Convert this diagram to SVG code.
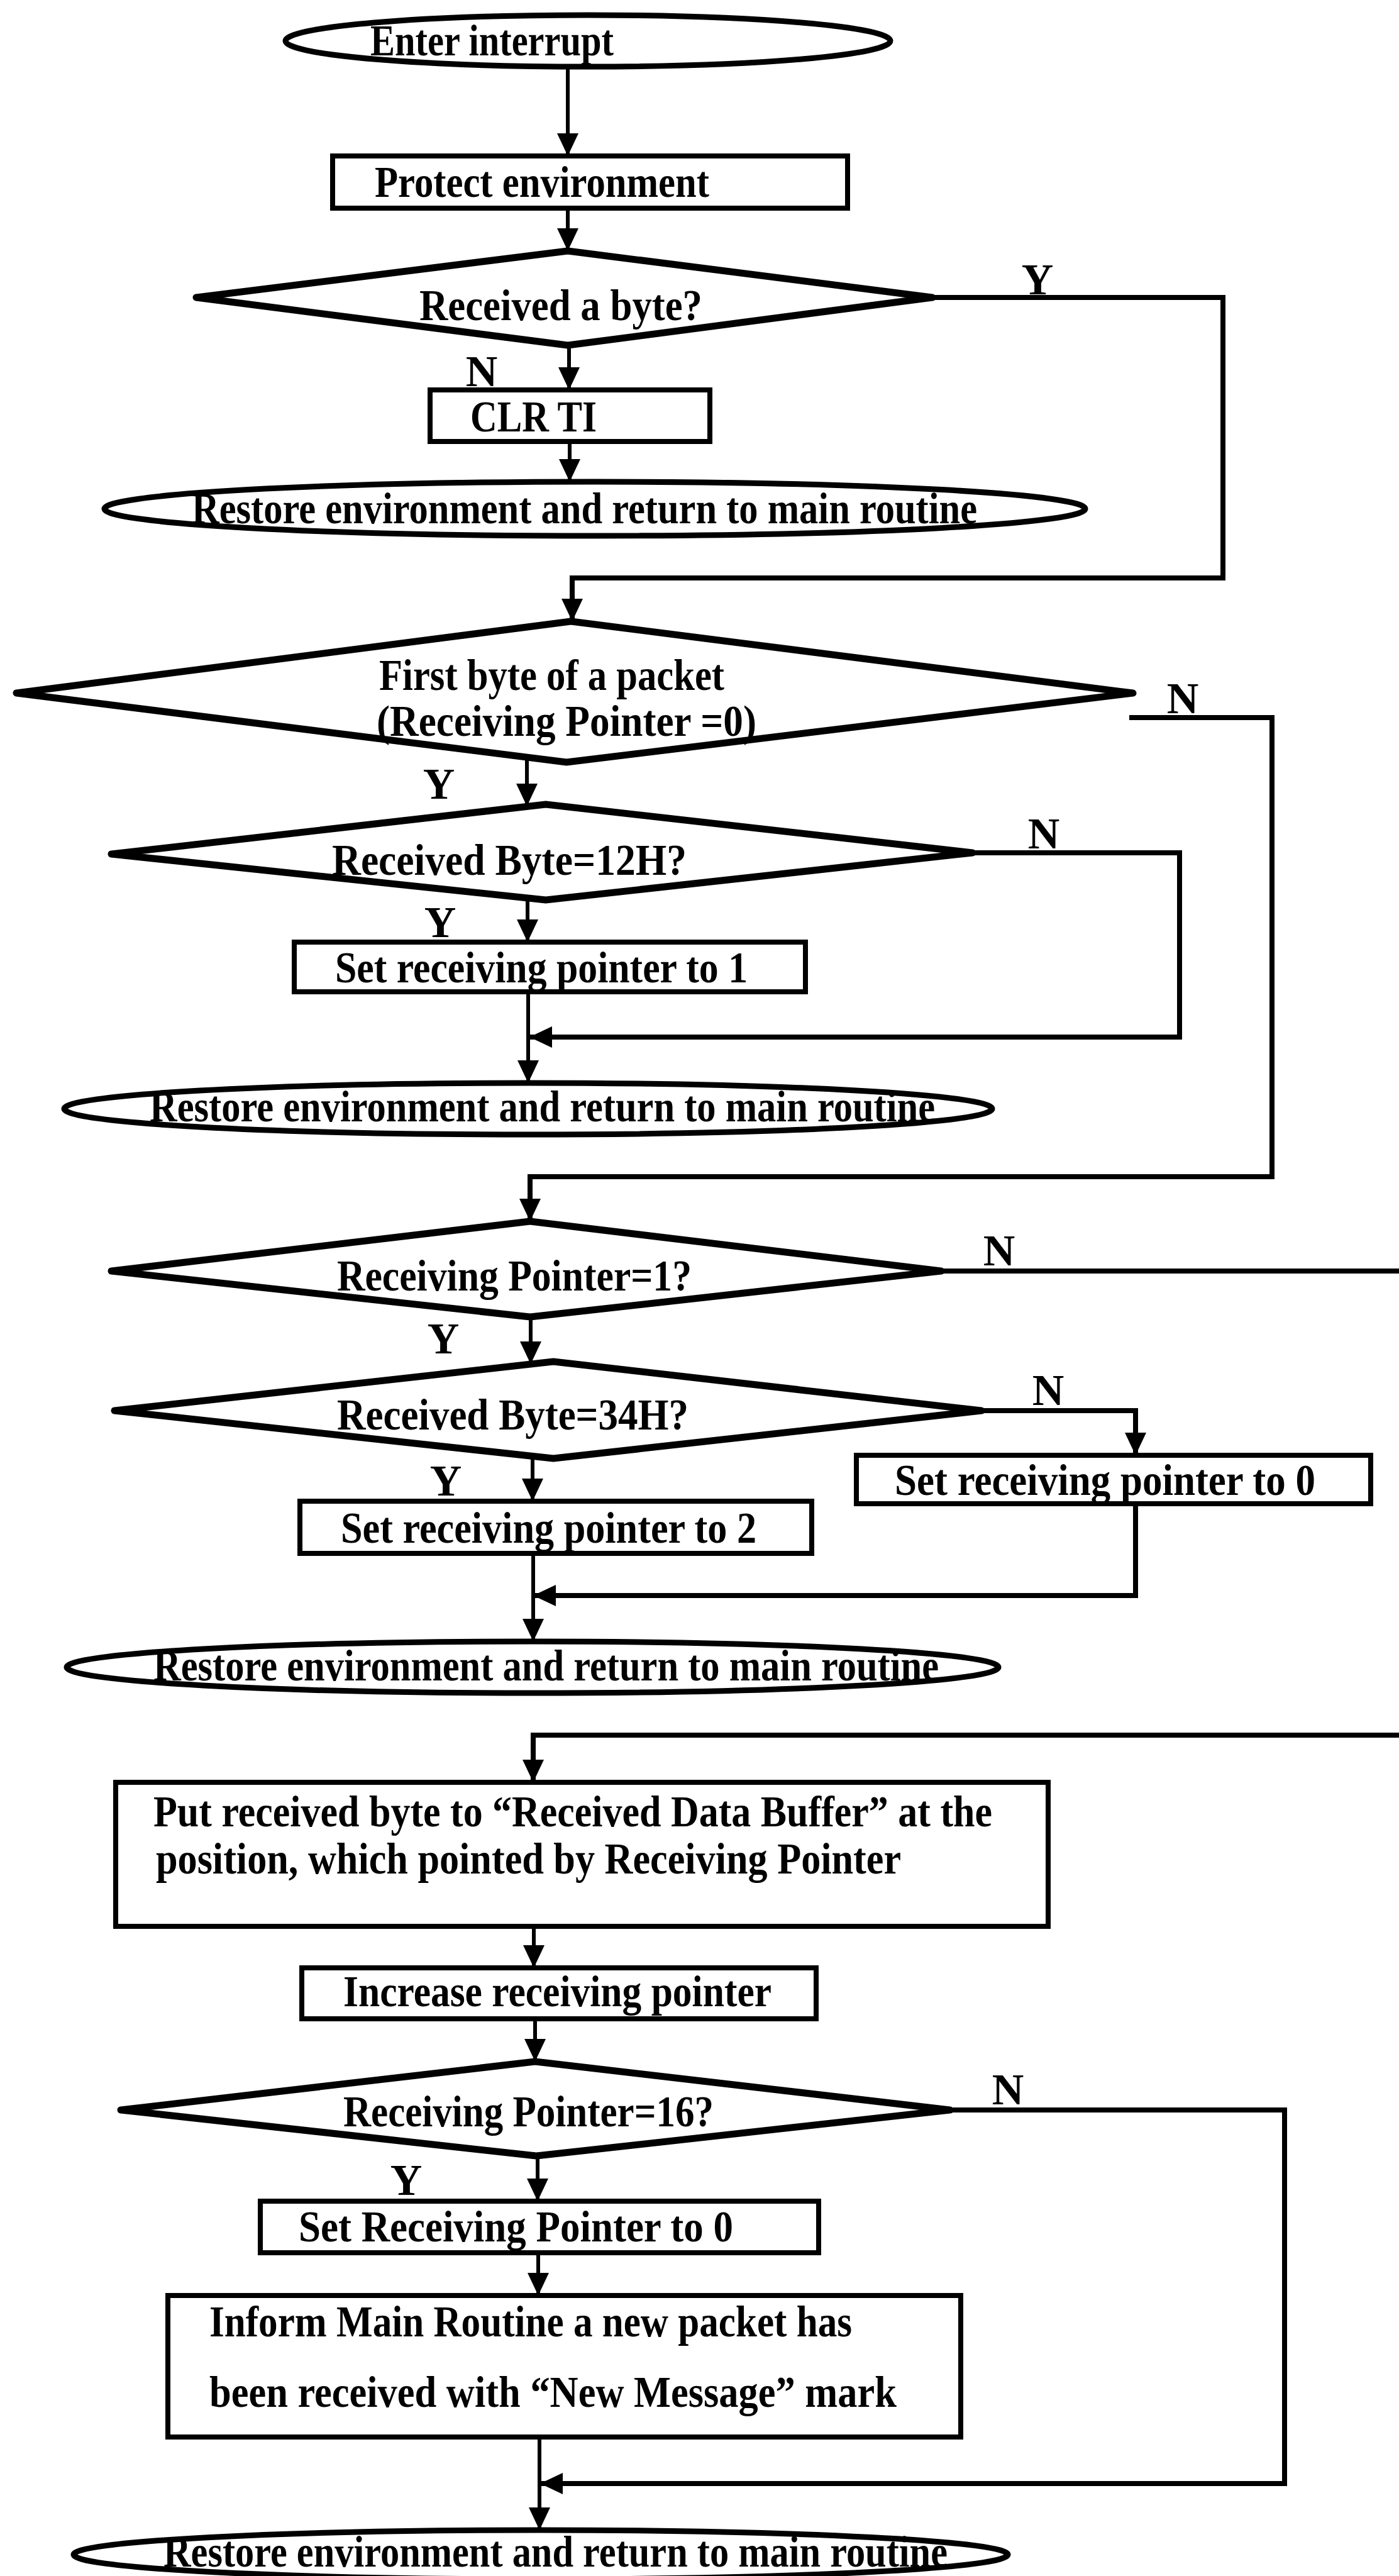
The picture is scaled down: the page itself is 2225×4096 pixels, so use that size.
<svg xmlns="http://www.w3.org/2000/svg" width="2225" height="4096" viewBox="0 0 2225 4096">
  <style>
    .shape { fill: #ffffff; stroke: #000000; }
    .dia { stroke-width: 11; stroke-linejoin: round; }
    .box { stroke-width: 8; }
    .term { stroke-width: 9; }
    .txt { font-family: "Liberation Serif", "Times New Roman", serif; font-weight: bold; font-size: 70px; fill: #000000; }
    .lbl { font-family: "Liberation Serif", "Times New Roman", serif; font-weight: bold; font-size: 70px; fill: #000000; text-anchor: middle; }
    .wire { fill: none; stroke: #000000; stroke-width: 6; stroke-linejoin: miter; }
    .loop { fill: none; stroke: #000000; stroke-width: 8; stroke-linejoin: miter; }
  </style>
  <defs>
    <marker id="arrow" markerUnits="userSpaceOnUse" markerWidth="38" markerHeight="36" refX="36" refY="17" orient="auto">
      <path d="M0,0 L36,17 L0,34 z" fill="#000000"/>
    </marker>
  </defs>
  <rect x="0" y="0" width="2225" height="4096" fill="#ffffff"/>

  <!-- connectors -->
  <g id="connectors">
    <path class="wire" d="M903,106 V248" marker-end="url(#arrow)"/>
    <path class="wire" d="M903,331 V399" marker-end="url(#arrow)"/>
    <path class="wire" d="M905,549 V620" marker-end="url(#arrow)"/>
    <path class="wire" d="M906,702 V766" marker-end="url(#arrow)"/>
    <!-- Y branch of "Received a byte?" -->
    <path class="loop" d="M1483,473 H1945 V919 H910 V988" marker-end="url(#arrow)"/>
    <!-- N branch of first-byte test -->
    <path class="loop" d="M1796,1141 H2023 V1871 H843 V1942" marker-end="url(#arrow)"/>
    <path class="wire" d="M838,1204 V1282" marker-end="url(#arrow)"/>
    <path class="wire" d="M839,1428 V1498" marker-end="url(#arrow)"/>
    <path class="loop" d="M1547,1356 H1876 V1649 H842" marker-end="url(#arrow)"/>
    <path class="wire" d="M840,1578 V1722" marker-end="url(#arrow)"/>
    <!-- N branch of "Receiving Pointer=1?" runs off to the right -->
    <path class="loop" d="M1497,2021 H2230"/>
    <path class="wire" d="M844,2094 V2169" marker-end="url(#arrow)"/>
    <path class="loop" d="M1561,2243 H1806 V2314" marker-end="url(#arrow)"/>
    <path class="loop" d="M1806,2391 V2537 H848" marker-end="url(#arrow)"/>
    <path class="wire" d="M847,2315 V2387" marker-end="url(#arrow)"/>
    <path class="wire" d="M848,2470 V2610" marker-end="url(#arrow)"/>
    <path class="loop" d="M2230,2759 H848 V2834" marker-end="url(#arrow)"/>
    <path class="wire" d="M849,3063 V3129" marker-end="url(#arrow)"/>
    <path class="wire" d="M851,3210 V3278" marker-end="url(#arrow)"/>
    <path class="loop" d="M1511,3355 H2043 V3949 H859" marker-end="url(#arrow)"/>
    <path class="wire" d="M855,3428 V3500" marker-end="url(#arrow)"/>
    <path class="wire" d="M856,3582 V3650" marker-end="url(#arrow)"/>
    <path class="wire" d="M858,3875 V4023" marker-end="url(#arrow)"/>
  </g>

  <!-- branch labels -->
  <g id="labels">
    <text class="lbl" x="1650" y="468">Y</text>
    <text class="lbl" x="766" y="614">N</text>
    <text class="lbl" x="1881" y="1134">N</text>
    <text class="lbl" x="698" y="1270">Y</text>
    <text class="lbl" x="1660" y="1349">N</text>
    <text class="lbl" x="700" y="1490">Y</text>
    <text class="lbl" x="1589" y="2012">N</text>
    <text class="lbl" x="705" y="2152">Y</text>
    <text class="lbl" x="1667" y="2234">N</text>
    <text class="lbl" x="709" y="2378">Y</text>
    <text class="lbl" x="1603" y="3346">N</text>
    <text class="lbl" x="646" y="3490">Y</text>
  </g>

  <g id="enter">
    <ellipse class="shape term" cx="935" cy="65" rx="481" ry="41"/>
    <text class="txt" x="589" y="88" font-size="64" textLength="387" lengthAdjust="spacingAndGlyphs">Enter interrupt</text>
  </g>

  <g id="protect">
    <rect class="shape box" x="529" y="248" width="819" height="83"/>
    <text class="txt" x="596" y="313" textLength="532" lengthAdjust="spacingAndGlyphs">Protect environment</text>
  </g>

  <g id="got-byte">
    <polygon class="shape dia" points="903,399 1483,473 903,549 312,473"/>
    <text class="txt" x="667" y="509" textLength="450" lengthAdjust="spacingAndGlyphs">Received a byte?</text>
  </g>

  <g id="clr-ti">
    <rect class="shape box" x="684" y="620" width="445" height="82"/>
    <text class="txt" x="748" y="686" textLength="201" lengthAdjust="spacingAndGlyphs">CLR TI</text>
  </g>

  <g id="return-1">
    <ellipse class="shape term" cx="946" cy="809" rx="780" ry="43"/>
    <text class="txt" x="305" y="832" textLength="1249" lengthAdjust="spacingAndGlyphs">Restore environment and return to main routine</text>
  </g>

  <g id="first-byte">
    <polygon class="shape dia" points="908,988 1802,1102 901,1212 26,1102"/>
    <text class="txt" x="603" y="1097" textLength="549" lengthAdjust="spacingAndGlyphs">First byte of a packet</text>
    <text class="txt" x="599" y="1170" textLength="604" lengthAdjust="spacingAndGlyphs">(Receiving Pointer =0)</text>
  </g>

  <g id="byte-12h">
    <polygon class="shape dia" points="868,1279 1547,1356 868,1431 177,1358"/>
    <text class="txt" x="528" y="1391" textLength="564" lengthAdjust="spacingAndGlyphs">Received Byte=12H?</text>
  </g>

  <g id="set-ptr-1">
    <rect class="shape box" x="468" y="1498" width="813" height="79"/>
    <text class="txt" x="533" y="1562" textLength="656" lengthAdjust="spacingAndGlyphs">Set receiving pointer to 1</text>
  </g>

  <g id="return-2">
    <ellipse class="shape term" cx="840" cy="1763" rx="738" ry="41"/>
    <text class="txt" x="238" y="1783" textLength="1249" lengthAdjust="spacingAndGlyphs">Restore environment and return to main routine</text>
  </g>

  <g id="ptr-is-1">
    <polygon class="shape dia" points="843,1942 1497,2021 843,2094 177,2021"/>
    <text class="txt" x="536" y="2052" textLength="564" lengthAdjust="spacingAndGlyphs">Receiving Pointer=1?</text>
  </g>

  <g id="byte-34h">
    <polygon class="shape dia" points="880,2165 1561,2243 880,2319 182,2243"/>
    <text class="txt" x="536" y="2273" textLength="559" lengthAdjust="spacingAndGlyphs">Received Byte=34H?</text>
  </g>

  <g id="set-ptr-0">
    <rect class="shape box" x="1362" y="2314" width="818" height="77"/>
    <text class="txt" x="1423" y="2377" textLength="669" lengthAdjust="spacingAndGlyphs">Set receiving pointer to 0</text>
  </g>

  <g id="set-ptr-2">
    <rect class="shape box" x="477" y="2387" width="814" height="83"/>
    <text class="txt" x="542" y="2453" textLength="661" lengthAdjust="spacingAndGlyphs">Set receiving pointer to 2</text>
  </g>

  <g id="return-3">
    <ellipse class="shape term" cx="847" cy="2651" rx="741" ry="41"/>
    <text class="txt" x="244" y="2672" textLength="1249" lengthAdjust="spacingAndGlyphs">Restore environment and return to main routine</text>
  </g>

  <g id="store-byte">
    <rect class="shape box" x="184" y="2834" width="1483" height="229"/>
    <text class="txt" x="244" y="2904" textLength="1334" lengthAdjust="spacingAndGlyphs">Put received byte to “Received Data Buffer” at the</text>
    <text class="txt" x="248" y="2979" textLength="1185" lengthAdjust="spacingAndGlyphs">position, which pointed by Receiving Pointer</text>
  </g>

  <g id="inc-ptr">
    <rect class="shape box" x="480" y="3129" width="818" height="81"/>
    <text class="txt" x="546" y="3190" textLength="681" lengthAdjust="spacingAndGlyphs">Increase receiving pointer</text>
  </g>

  <g id="ptr-is-16">
    <polygon class="shape dia" points="851,3278 1511,3355 853,3428 192,3355"/>
    <text class="txt" x="546" y="3381" textLength="589" lengthAdjust="spacingAndGlyphs">Receiving Pointer=16?</text>
  </g>

  <g id="reset-ptr">
    <rect class="shape box" x="414" y="3500" width="888" height="82"/>
    <text class="txt" x="475" y="3564" textLength="691" lengthAdjust="spacingAndGlyphs">Set Receiving Pointer to 0</text>
  </g>

  <g id="inform-main">
    <rect class="shape box" x="267" y="3650" width="1261" height="225"/>
    <text class="txt" x="333" y="3715" textLength="1022" lengthAdjust="spacingAndGlyphs">Inform Main Routine a new packet has</text>
    <text class="txt" x="333" y="3827" textLength="1093" lengthAdjust="spacingAndGlyphs">been received with “New Message” mark</text>
  </g>

  <g id="return-4">
    <ellipse class="shape term" cx="860" cy="4062" rx="743" ry="39"/>
    <text class="txt" x="260" y="4081" textLength="1247" lengthAdjust="spacingAndGlyphs">Restore environment and return to main routine</text>
  </g>
</svg>
